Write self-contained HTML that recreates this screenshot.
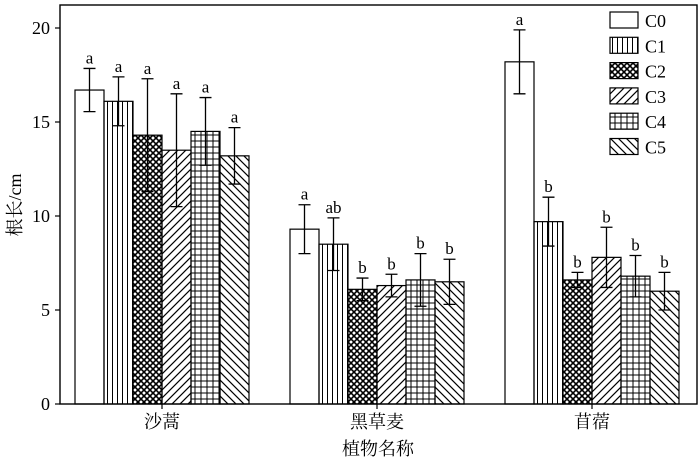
<!DOCTYPE html>
<html><head><meta charset="utf-8"><style>body{margin:0;background:#fff}svg{display:block}text{font-family:"Liberation Serif","Noto Serif CJK SC",serif;fill:#000}</style></head>
<body>
<svg id="chart" width="700" height="460" viewBox="0 0 700 460" xmlns="http://www.w3.org/2000/svg">
<defs>
<pattern id="p1" width="5" height="5" patternUnits="userSpaceOnUse"><line x1="2.5" y1="0" x2="2.5" y2="5" stroke="#000" stroke-width="1"/></pattern>
<pattern id="p2" width="6" height="6" patternUnits="userSpaceOnUse"><rect width="6" height="6" fill="#fff"/><path d="M0 0L6 6M6 0L0 6" stroke="#000" stroke-width="1.6"/></pattern>
<pattern id="p3" width="8" height="8" patternUnits="userSpaceOnUse"><path d="M-2 2L2 -2M0 8L8 0M6 10L10 6" stroke="#000" stroke-width="1.2"/></pattern>
<pattern id="p4" width="6" height="6" patternUnits="userSpaceOnUse"><path d="M3 0V6M0 3H6" stroke="#000" stroke-width="1"/></pattern>
<pattern id="p5" width="8" height="8" patternUnits="userSpaceOnUse"><path d="M-2 6L2 10M0 0L8 8M6 -2L10 2" stroke="#000" stroke-width="1.2"/></pattern>
</defs>
<g id="plot"></g>
</svg>
<script>
const groups=["沙蒿","黑草麦","苜蓿"];
const series=["C0","C1","C2","C3","C4","C5"];
const vals=[[16.7,16.1,14.3,13.5,14.5,13.2],[9.3,8.5,6.1,6.3,6.6,6.5],[18.2,9.7,6.6,7.8,6.8,6.0]];
const errs=[[1.15,1.3,3.0,3.0,1.8,1.5],[1.3,1.4,0.6,0.6,1.4,1.2],[1.7,1.3,0.4,1.6,1.1,1.0]];
const letters=[["a","a","a","a","a","a"],["a","ab","b","b","b","b"],["a","b","b","b","b","b"]];
const yTicks=[0,5,10,15,20];
const fills=["#fff","url(#p1)","url(#p2)","url(#p3)","url(#p4)","url(#p5)"];
const NS="http://www.w3.org/2000/svg",g=document.getElementById('plot');
const L=60,R=697,T=5,B=404;
const y=v=>B-v*18.8;
const groupStart=[75,290,505],bw=29;
function mk(t,a,p){const e=document.createElementNS(NS,t);for(const k in a)e.setAttribute(k,a[k]);(p||g).appendChild(e);return e;}
groups.forEach((gn,gi)=>{series.forEach((s,si)=>{
 const x=groupStart[gi]+si*bw,v=vals[gi][si],e=errs[gi][si];
 const r=mk('rect',{x:x,y:y(v),width:bw,height:B-y(v),fill:fills[si],stroke:'#000','stroke-width':1.2});
 
 const cx=x+bw/2;
 const eb=mk('path',{d:`M${cx} ${y(v+e)}V${y(v-e)}M${cx-6} ${y(v+e)}H${cx+6}M${cx-6} ${y(v-e)}H${cx+6}`,stroke:'#000','stroke-width':1.3,fill:'none'});
 
 const t=mk('text',{x:cx,y:y(v+e)-5,'text-anchor':'middle','font-size':17});t.textContent=letters[gi][si];
 
});
 const gx=groupStart[gi]+3*bw;
 mk('line',{x1:gx,y1:B,x2:gx,y2:B+5,stroke:'#000','stroke-width':1.2});
 const gt=mk('text',{x:gx,y:428,'text-anchor':'middle','font-size':18});gt.textContent=gn;
 
});
yTicks.forEach(v=>{mk('line',{x1:L,y1:y(v),x2:L-5,y2:y(v),stroke:'#000','stroke-width':1.2});
 const t=mk('text',{x:L-10,y:y(v)+6,'text-anchor':'end','font-size':18});t.textContent=v;
 });
const fr=mk('rect',{x:L,y:T,width:R-L,height:B-T,fill:'none',stroke:'#000','stroke-width':1.4});

series.forEach((s,si)=>{const yy=12+si*25.3;
 const r=mk('rect',{x:610,y:yy,width:28,height:16,fill:fills[si],stroke:'#000','stroke-width':1.2});
 
 const t=mk('text',{x:645,y:yy+15,'font-size':18});t.textContent=s;
 });
const xt=mk('text',{x:378,y:455,'text-anchor':'middle','font-size':18});xt.textContent='植物名称';

const yt=mk('text',{x:0,y:0,'text-anchor':'middle','font-size':18,transform:'translate(21,205) rotate(-90)'});yt.textContent='根长/cm';

</script>
</body></html>
